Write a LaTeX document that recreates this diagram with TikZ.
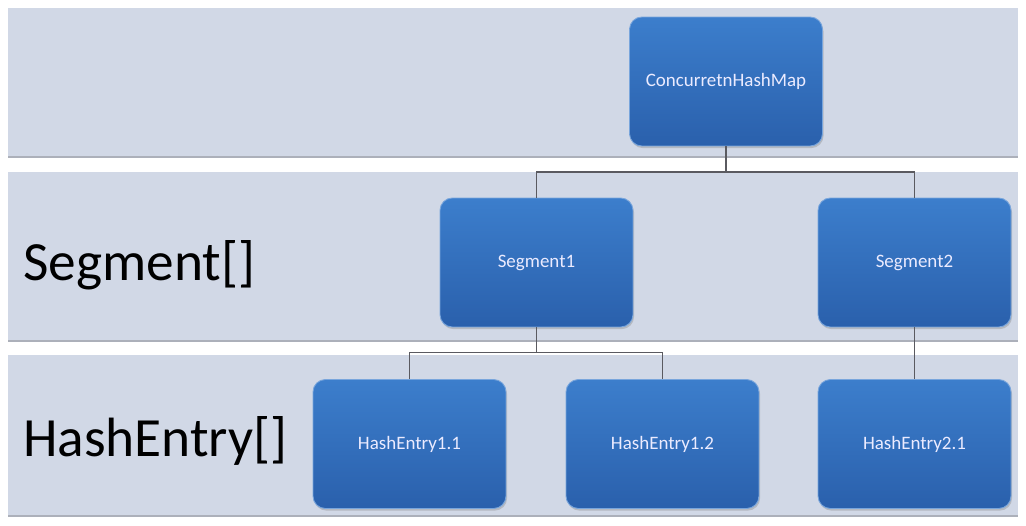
\documentclass[tikz,border=0pt]{standalone}
\usepackage{fontspec}
\setmainfont{Carlito}
\usepackage{tikz}
\usetikzlibrary{shadows, calc}
\definecolor{bandfill}{RGB}{209,216,230}
\definecolor{bandshade}{RGB}{172,176,186}
\definecolor{boxtop}{RGB}{60,126,204}
\definecolor{boxbot}{RGB}{42,96,172}
\definecolor{boxedge}{RGB}{120,165,220}
\definecolor{linegray}{RGB}{90,90,96}
\tikzset{
  band/.style={rectangle, fill=bandfill, draw=none},
  bandshadow/.style={rectangle, fill=bandshade, draw=none},
  mapbox/.style={rectangle, rounded corners=7pt, draw=boxedge, line width=0.5pt,
    top color=boxtop, bottom color=boxbot,
    minimum width=3.86cm, minimum height=2.58cm,
    text=white!92!blue, font=\fontsize{10.8}{12}\selectfont,
    drop shadow={shadow xshift=0.6pt, shadow yshift=-1.2pt, opacity=0.35}},
  rowlabel/.style={anchor=west, font=\fontsize{31.5}{36}\selectfont, text=black},
  conn/.style={line width=0.8pt, color=linegray}
}

\begin{document}
\begin{tikzpicture}[x=0.02cm, y=-0.02cm]
  \useasboundingbox (0,0) rectangle (1026,525);

  % Bands
  \foreach \top/\bot in {8/158, 172/342, 355/517} {
    \fill[bandshadow] (8,\bot-3) rectangle (1018,\bot);
    \fill[band] (8,\top) rectangle (1018,\bot-2);
  }

  % Row labels
  \node[rowlabel] (lblseg) at (17,265) {Segment[]};
  \node[rowlabel] (lblentry) at (17,441) {HashEntry[]};

  % Boxes
  \node[mapbox] (chm) at (726,81.5) {ConcurretnHashMap};
  \node[mapbox] (seg1) at (536.5,262.5) {Segment1};
  \node[mapbox] (seg2) at (914.5,262.5) {Segment2};
  \node[mapbox] (he11) at (409.5,444) {HashEntry1.1};
  \node[mapbox] (he12) at (662.5,444) {HashEntry1.2};
  \node[mapbox] (he21) at (914.5,444) {HashEntry2.1};

  % Connectors
  \draw[conn] (chm.south) -- ++(0,25.5) -| (seg1.north);
  \draw[conn] (chm.south) -- ++(0,25.5) -| (seg2.north);
  \draw[conn] (seg1.south) -- ++(0,25) -| (he11.north);
  \draw[conn] (seg1.south) -- ++(0,25) -| (he12.north);
  \draw[conn] (seg2.south) -- (he21.north);
\end{tikzpicture}
\end{document}
